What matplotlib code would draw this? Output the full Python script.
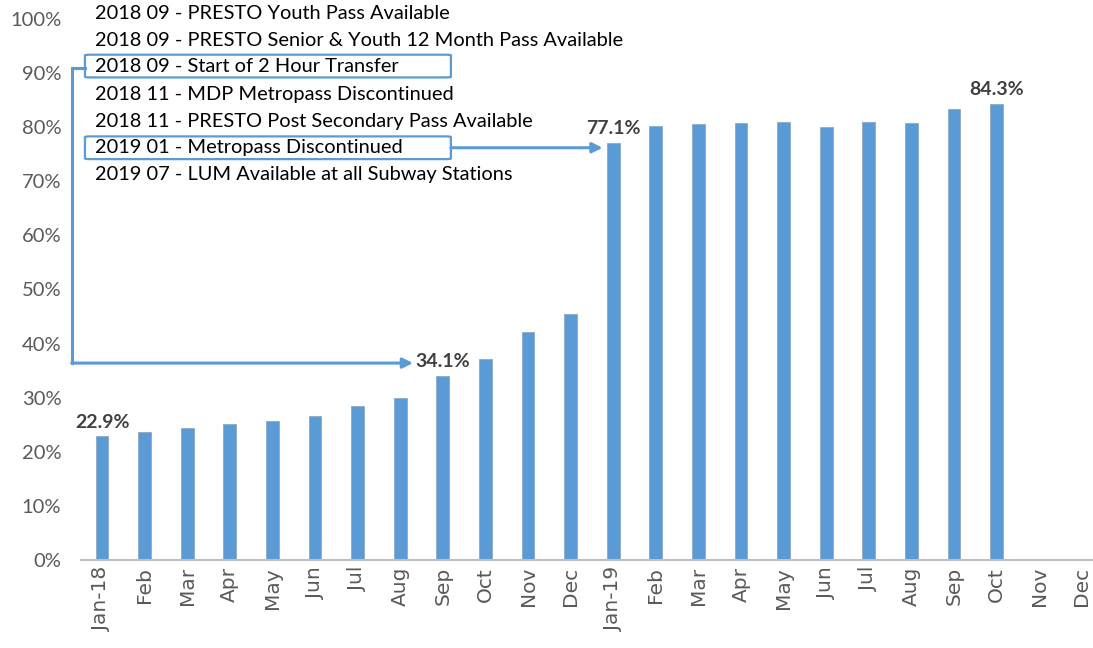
import matplotlib.pyplot as plt
from matplotlib.patches import FancyBboxPatch
from matplotlib.ticker import PercentFormatter

# Monthly share (percent), Jan 2018 - Dec 2019 (Nov/Dec 2019 not yet available)
months = ['Jan-18', 'Feb', 'Mar', 'Apr', 'May', 'Jun', 'Jul', 'Aug', 'Sep', 'Oct', 'Nov', 'Dec',
          'Jan-19', 'Feb', 'Mar', 'Apr', 'May', 'Jun', 'Jul', 'Aug', 'Sep', 'Oct', 'Nov', 'Dec']
share = [22.9, 23.6, 24.4, 25.2, 25.7, 26.6, 28.5, 29.9, 34.1, 37.2, 42.2, 45.5,
         77.1, 80.3, 80.5, 80.7, 80.9, 80.0, 80.9, 80.8, 83.4, 84.3]
labelled = [0, 8, 12, 21]

events = ['2018 09 - PRESTO Youth Pass Available',
          '2018 09 - PRESTO Senior & Youth 12 Month Pass Available',
          '2018 09 - Start of 2 Hour Transfer',
          '2018 11 - MDP Metropass Discontinued',
          '2018 11 - PRESTO Post Secondary Pass Available',
          '2019 01 - Metropass Discontinued',
          '2019 07 - LUM Available at all Subway Stations']
boxed = {2: 8, 5: 12}  # event row -> month index it points to

blue = '#5B9BD5'
grey_text = '#595959'

fig = plt.figure(figsize=(10.93, 6.48), dpi=100)
ax = fig.add_axes([80.7 / 1093, 88 / 648, 1022.4 / 1093, 541 / 648])

x = list(range(len(share)))
ax.bar(x, share, width=0.3, color=blue, edgecolor='#8FA9C4', linewidth=0.6)

ax.set_xlim(-0.5, len(months) - 0.5)
ax.set_ylim(0, 100)
ax.set_yticks(range(0, 101, 10))
ax.yaxis.set_major_formatter(PercentFormatter(decimals=0))
ax.set_xticks(range(len(months)))
ax.set_xticklabels(months, rotation=90, fontsize=14.5, color=grey_text)
for t in ax.get_yticklabels():
    t.set_fontsize(14.5)
    t.set_color(grey_text)
    t.set_family('Lato')
ax.tick_params(axis='x', length=0, pad=5)
ax.tick_params(axis='y', length=0, pad=14)
for s in ['top', 'right', 'left']:
    ax.spines[s].set_visible(False)
ax.spines['bottom'].set_color('#BFBFBF')
ax.spines['bottom'].set_linewidth(1.5)

# data labels
for i in labelled:
    ax.annotate(f'{share[i]:.1f}%', (i, share[i]), xytext=(0, 4), textcoords='offset points',
                ha='center', va='bottom', fontsize=14, fontweight='bold', color='#404040',
                family='Lato')

# event list
row_y = [101.1, 96.1, 91.3, 86.1, 81.1, 76.2, 71.2]
for r, txt in enumerate(events):
    ax.text(-0.164, row_y[r], txt, fontsize=14.4, family='Lato', color='black',
            va='center', ha='left', clip_on=False)

box_left, box_right = -0.40, 8.19
for r in boxed:
    ax.add_patch(FancyBboxPatch((box_left, row_y[r] - 2.1), box_right - box_left, 4.2,
                                boxstyle='round,pad=0,rounding_size=0.12',
                                fill=False, edgecolor=blue, linewidth=1.6, clip_on=False,
                                mutation_aspect=1))

# connector: Start of 2 Hour Transfer -> Sep 2018
i = boxed[2]
ry = row_y[2] - 0.4
ax.plot([box_left, -0.70, -0.70], [ry, ry, 36.4], color=blue, lw=2.2,
        clip_on=False, solid_joinstyle='miter')
ax.annotate('', xy=(i - 0.70, 36.4), xytext=(-0.71, 36.4),
            arrowprops=dict(arrowstyle='-|>,head_length=0.6,head_width=0.3',
                            color=blue, lw=2.2, shrinkA=0, shrinkB=0),
            annotation_clip=False)

# connector: Metropass Discontinued -> Jan 2019
i = boxed[5]
ax.annotate('', xy=(i - 0.25, row_y[5]), xytext=(box_right, row_y[5]),
            arrowprops=dict(arrowstyle='-|>,head_length=0.6,head_width=0.3',
                            color=blue, lw=2.2, shrinkA=0, shrinkB=0),
            annotation_clip=False)

fig.savefig('out.png', dpi=100)
